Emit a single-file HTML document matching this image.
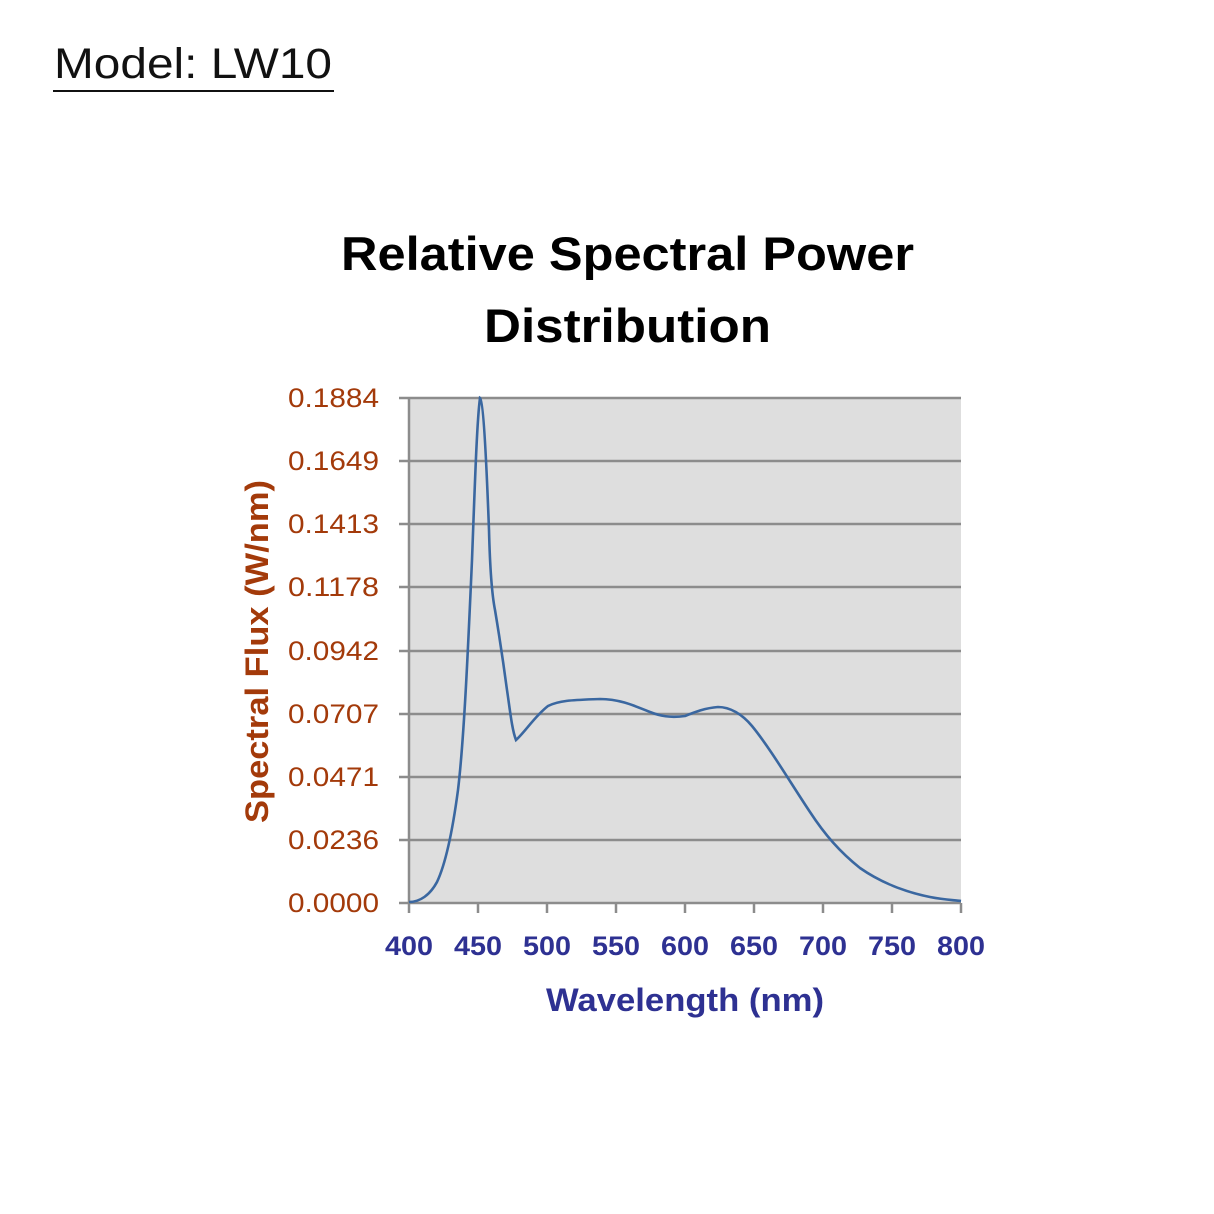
<!DOCTYPE html>
<html><head><meta charset="utf-8"><style>
html,body{margin:0;padding:0;background:#fff;}
body{width:1214px;height:1214px;position:relative;overflow:hidden;}
</style></head><body>
<svg width="1214" height="1214" viewBox="0 0 1214 1214" xmlns="http://www.w3.org/2000/svg" style="position:absolute;left:0;top:0">
<text x="54" y="78" font-family="Liberation Sans, sans-serif" font-size="43" fill="#111" textLength="278" lengthAdjust="spacingAndGlyphs">Model: LW10</text>
<line x1="53" y1="91" x2="334" y2="91" stroke="#111" stroke-width="2"/>
<text x="341" y="270" font-family="Liberation Sans, sans-serif" font-weight="bold" font-size="47" fill="#000" textLength="573" lengthAdjust="spacingAndGlyphs">Relative Spectral Power</text>
<text x="484" y="342" font-family="Liberation Sans, sans-serif" font-weight="bold" font-size="47" fill="#000" textLength="287" lengthAdjust="spacingAndGlyphs">Distribution</text>
<rect x="409" y="398" width="552" height="505" fill="#dedede"/>
<g stroke="#8c8c8c" stroke-width="2.5">
<line x1="399" y1="398" x2="961" y2="398"/>
<line x1="399" y1="461" x2="961" y2="461"/>
<line x1="399" y1="524" x2="961" y2="524"/>
<line x1="399" y1="587" x2="961" y2="587"/>
<line x1="399" y1="651" x2="961" y2="651"/>
<line x1="399" y1="714" x2="961" y2="714"/>
<line x1="399" y1="777" x2="961" y2="777"/>
<line x1="399" y1="840" x2="961" y2="840"/>
<line x1="399" y1="903" x2="961" y2="903"/>
<line x1="409" y1="398" x2="409" y2="913"/>
<line x1="478" y1="903" x2="478" y2="913"/>
<line x1="547" y1="903" x2="547" y2="913"/>
<line x1="616" y1="903" x2="616" y2="913"/>
<line x1="685" y1="903" x2="685" y2="913"/>
<line x1="754" y1="903" x2="754" y2="913"/>
<line x1="823" y1="903" x2="823" y2="913"/>
<line x1="892" y1="903" x2="892" y2="913"/>
<line x1="961" y1="903" x2="961" y2="913"/>
</g>
<g font-family="Liberation Sans, sans-serif" font-size="27" fill="#a33a0a">
<text x="288" y="407" textLength="91" lengthAdjust="spacingAndGlyphs">0.1884</text><text x="288" y="470" textLength="91" lengthAdjust="spacingAndGlyphs">0.1649</text><text x="288" y="533" textLength="91" lengthAdjust="spacingAndGlyphs">0.1413</text><text x="288" y="596" textLength="91" lengthAdjust="spacingAndGlyphs">0.1178</text><text x="288" y="660" textLength="91" lengthAdjust="spacingAndGlyphs">0.0942</text><text x="288" y="723" textLength="91" lengthAdjust="spacingAndGlyphs">0.0707</text><text x="288" y="786" textLength="91" lengthAdjust="spacingAndGlyphs">0.0471</text><text x="288" y="849" textLength="91" lengthAdjust="spacingAndGlyphs">0.0236</text><text x="288" y="912" textLength="91" lengthAdjust="spacingAndGlyphs">0.0000</text>
</g>
<g font-family="Liberation Sans, sans-serif" font-weight="bold" font-size="27" fill="#2e3192">
<text x="385" y="955" textLength="48" lengthAdjust="spacingAndGlyphs">400</text><text x="454" y="955" textLength="48" lengthAdjust="spacingAndGlyphs">450</text><text x="523" y="955" textLength="48" lengthAdjust="spacingAndGlyphs">500</text><text x="592" y="955" textLength="48" lengthAdjust="spacingAndGlyphs">550</text><text x="661" y="955" textLength="48" lengthAdjust="spacingAndGlyphs">600</text><text x="730" y="955" textLength="48" lengthAdjust="spacingAndGlyphs">650</text><text x="799" y="955" textLength="48" lengthAdjust="spacingAndGlyphs">700</text><text x="868" y="955" textLength="48" lengthAdjust="spacingAndGlyphs">750</text><text x="937" y="955" textLength="48" lengthAdjust="spacingAndGlyphs">800</text>
</g>
<text x="546" y="1011" font-family="Liberation Sans, sans-serif" font-weight="bold" font-size="32" fill="#2e3192" textLength="278" lengthAdjust="spacingAndGlyphs">Wavelength (nm)</text>
<text transform="translate(268,823) rotate(-90)" font-family="Liberation Sans, sans-serif" font-weight="bold" font-size="32" fill="#a33a0a" textLength="343" lengthAdjust="spacingAndGlyphs">Spectral Flux (W/nm)</text>
<path d="M409,902 C420,902 430,895 437,882 C445,865 452,835 458,790 C464,740 468,650 472,560 C475,480 477,420 480,398 C483,400 486,450 489,530 C490,570 492,595 495,610 C500,640 503,660 507,690 C510,710 512,730 516,740 C525,732 535,716 548,706 C560,700 575,700 600,699 C620,699 635,706 650,712 C660,716 670,718 685,716 C695,712 705,708 718,707 C730,707 742,714 752,726 C770,748 790,782 810,812 C825,835 840,852 860,868 C880,882 905,892 930,897 C945,900 955,900 961,901" fill="none" stroke="#3a67a0" stroke-width="2.6"/>
</svg>
</body></html>
